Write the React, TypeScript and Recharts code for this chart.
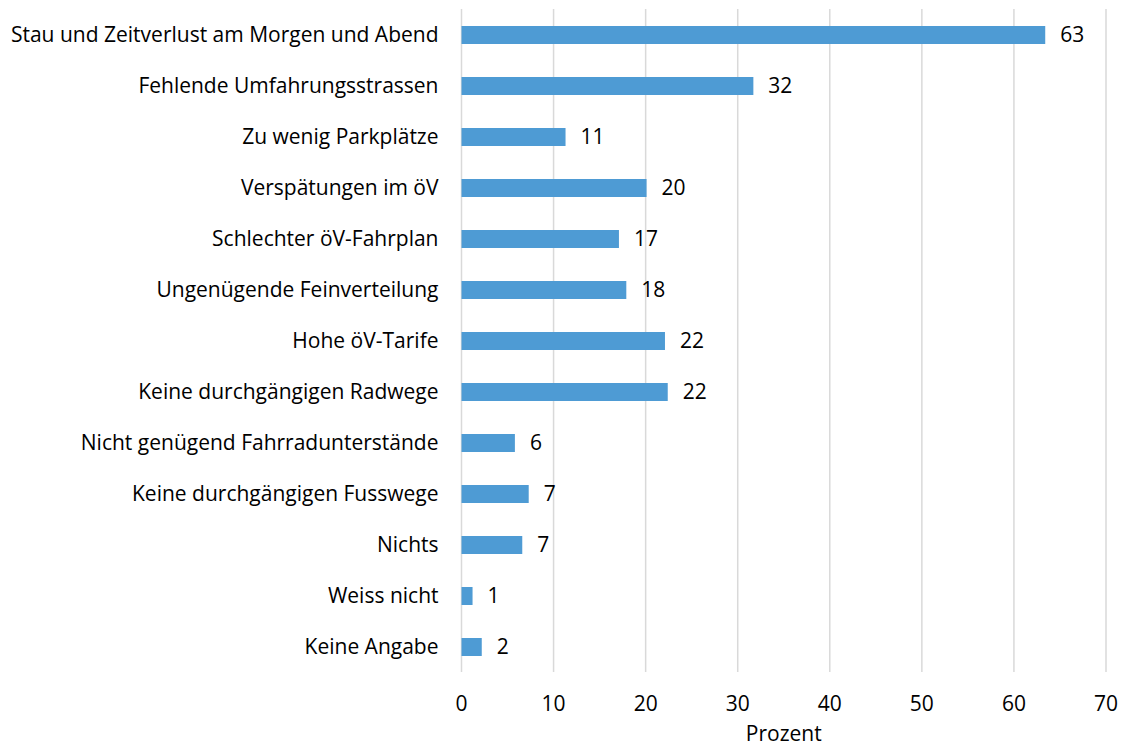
import { BarChart, Bar, XAxis, YAxis, CartesianGrid, LabelList } from "recharts";

const categories = [
  "Stau und Zeitverlust am Morgen und Abend",
  "Fehlende Umfahrungsstrassen",
  "Zu wenig Parkplätze",
  "Verspätungen im öV",
  "Schlechter öV-Fahrplan",
  "Ungenügende Feinverteilung",
  "Hohe öV-Tarife",
  "Keine durchgängigen Radwege",
  "Nicht genügend Fahrradunterstände",
  "Keine durchgängigen Fusswege",
  "Nichts",
  "Weiss nicht",
  "Keine Angabe",
];

const percent = [63.4, 31.7, 11.3, 20.1, 17.1, 17.9, 22.1, 22.4, 5.8, 7.3, 6.6, 1.2, 2.2];

const xTicks = [0, 10, 20, 30, 40, 50, 60, 70];

const data = categories.map((name, i) => ({ name, value: percent[i] }));

const font = "'Open Sans', sans-serif";

export default function App() {
  return (
    <div style={{ position: "fixed", left: 0, top: 0, background: "#fff" }}>
      <BarChart
        width={1123}
        height={747}
        data={data}
        layout="vertical"
        margin={{ top: 9, right: 17, bottom: 0, left: 0 }}
        barCategoryGap={0}
      >
        <CartesianGrid horizontal={false} stroke="#d9d9d9" strokeWidth={1.5} />
        <XAxis
          type="number"
          domain={[0, 70]}
          ticks={xTicks}
          axisLine={false}
          tickLine={false}
          height={75}
          tickMargin={18}
          tick={{ fill: "#000", fontSize: 21, fontFamily: font }}
          label={{
            value: "Prozent",
            position: "insideBottom",
            offset: 6,
            fill: "#000",
            fontSize: 21,
            fontFamily: font,
          }}
        />
        <YAxis
          type="category"
          dataKey="name"
          width={461.5}
          axisLine={false}
          tickLine={false}
          tickMargin={17}
          interval={0}
          tick={{ fill: "#000", fontSize: 21, fontFamily: font }}
        />
        <Bar dataKey="value" fill="#4e9bd4" barSize={18} isAnimationActive={false}>
          <LabelList
            dataKey="value"
            position="right"
            offset={15}
            formatter={(v: number) => Math.round(v)}
            style={{ fill: "#000", fontSize: 21, fontFamily: font }}
          />
        </Bar>
      </BarChart>
    </div>
  );
}
